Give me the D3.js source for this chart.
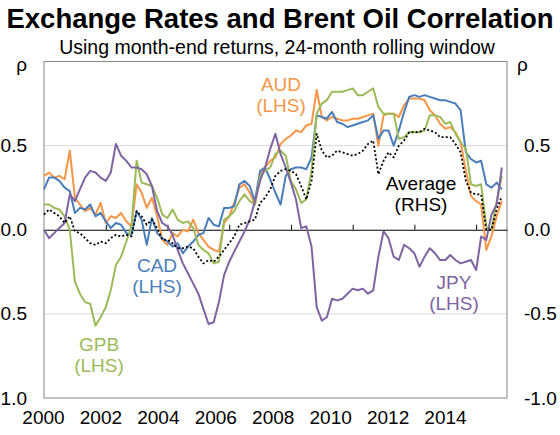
<!DOCTYPE html>
<html>
<head>
<meta charset="utf-8">
<script src="https://d3js.org/d3.v7.min.js"></script>
<style>
  body { margin: 0; background: #fff; }
  svg { font-family: Arial, "Liberation Sans", sans-serif; }
</style>
</head>
<body>
<svg id="drawing_region"></svg>
<script>
// bi-monthly observations, Jan 2000 - Nov 2014
const dates = d3.timeMonth.every(2).range(new Date(2000, 0, 1), new Date(2015, 0, 1));

const aud = [0.32,0.34,0.31,0.32,0.30,0.47,0.19,0.15,0.11,0.13,0.09,0.16,0.04,0.08,0.07,0.10,0.05,0.02,0.27,0.22,0.13,0.19,0.08,
  -0.06,-0.09,-0.02,-0.04,0.00,-0.01,0.06,-0.02,-0.06,-0.10,-0.12,-0.13,0.04,0.08,0.16,0.25,0.27,0.22,0.15,0.33,0.37,0.41,
  0.43,0.51,0.54,0.56,0.59,0.58,0.62,0.63,0.83,0.67,0.65,0.67,0.66,0.65,0.65,0.66,0.66,0.67,0.68,0.69,0.50,0.68,0.69,
  0.69,0.67,0.74,0.78,0.78,0.78,0.77,0.71,0.68,0.63,0.60,0.61,0.58,0.52,0.35,0.20,0.17,0.15,-0.12,-0.04,0.08,0.17];

const cad = [0.24,0.31,0.31,0.29,0.25,0.23,0.10,0.13,0.12,0.15,0.08,0.10,0.05,0.01,0.04,0.03,-0.02,-0.03,0.11,0.06,-0.09,0.07,-0.02,
  -0.05,-0.07,-0.10,-0.08,-0.14,-0.10,-0.07,-0.03,-0.02,0.07,0.03,0.02,0.13,0.13,0.14,0.27,0.29,0.26,0.17,0.35,0.37,0.30,
  0.22,0.15,0.32,0.36,0.37,0.37,0.36,0.43,0.68,0.67,0.66,0.70,0.64,0.63,0.61,0.62,0.63,0.64,0.65,0.68,0.54,0.59,0.59,
  0.50,0.59,0.70,0.79,0.80,0.79,0.80,0.79,0.78,0.77,0.77,0.76,0.75,0.71,0.46,0.42,0.40,0.41,0.27,0.25,0.28,0.24];

const gpb = [0.15,0.15,0.13,0.12,0.08,0.00,-0.31,-0.38,-0.43,-0.44,-0.57,-0.52,-0.46,-0.36,-0.21,-0.16,-0.07,0.02,0.41,0.28,0.27,0.26,0.19,
  0.09,0.07,0.12,0.06,0.04,0.05,0.01,-0.09,-0.12,-0.14,-0.20,-0.19,0.06,0.08,0.11,0.17,0.21,0.17,0.15,0.32,0.35,0.37,
  0.45,0.47,0.44,0.29,0.24,0.16,0.18,0.35,0.69,0.75,0.77,0.82,0.82,0.82,0.83,0.84,0.80,0.80,0.82,0.84,0.73,0.69,0.69,
  0.69,0.54,0.55,0.58,0.58,0.58,0.59,0.68,0.68,0.67,0.63,0.64,0.57,0.52,0.48,0.27,0.26,0.27,0.02,0.00,0.17,0.32];

const jpy = [0.00,-0.05,-0.02,0.01,0.04,0.21,0.17,0.24,0.31,0.35,0.34,0.31,0.29,0.34,0.51,0.44,0.41,0.37,0.37,0.36,0.33,0.26,0.11,
  0.04,0.02,-0.03,-0.12,-0.20,-0.26,-0.32,-0.38,-0.47,-0.56,-0.55,-0.43,-0.27,-0.19,-0.13,-0.07,-0.01,0.06,0.17,0.29,0.37,0.48,
  0.57,0.45,0.37,0.28,0.18,0.01,0.02,-0.10,-0.46,-0.54,-0.52,-0.41,-0.42,-0.41,-0.38,-0.35,-0.36,-0.35,-0.38,-0.36,-0.16,-0.01,-0.05,
  -0.16,-0.18,-0.09,-0.11,-0.14,-0.22,-0.16,-0.11,-0.14,-0.18,-0.18,-0.15,-0.18,-0.20,-0.19,-0.18,-0.24,-0.04,-0.06,0.09,0.15,0.37];

const average = [0.09,0.12,0.10,0.08,0.04,0.08,-0.01,-0.02,-0.05,-0.08,-0.09,-0.07,-0.08,-0.05,-0.03,-0.04,-0.03,-0.04,0.11,0.08,0.03,0.06,0.01,
  -0.06,-0.06,-0.08,-0.11,-0.11,-0.10,-0.11,-0.16,-0.20,-0.18,-0.19,-0.16,-0.12,-0.08,-0.04,0.03,0.04,0.05,0.06,0.16,0.19,0.24,
  0.32,0.35,0.36,0.35,0.33,0.26,0.18,0.29,0.57,0.47,0.43,0.44,0.47,0.46,0.45,0.44,0.45,0.47,0.51,0.53,0.33,0.41,0.46,
  0.43,0.50,0.53,0.58,0.58,0.58,0.60,0.59,0.58,0.55,0.55,0.55,0.51,0.46,0.29,0.22,0.21,0.21,0.00,0.00,0.12,0.20];

const yearLabels = ["2000","2002","2004","2006","2008","2010","2012","2014"];
const yTicks = [-1, -0.5, 0, 0.5];

var width = 560;
var height = 435;
var margin = {top: 61.5, right: 53, bottom: 37, left: 44};

var svg = d3.select('#drawing_region')
    .attr('width', width)
    .attr('height', height);

const inner_width = width - margin.left - margin.right;
const inner_height = height - margin.top - margin.bottom;

const chart = svg.append('g')
    .attr('transform', `translate(${margin.left}, ${margin.top})`);

const xscale = d3.scaleTime()
    .domain([new Date(2000, 0, 1), new Date(2015, 0, 1)])
    .range([0, inner_width]);

const yscale = d3.scaleLinear()
    .domain([-1, 1])
    .range([inner_height, 0]);

const labelScale = d3.scalePoint()
    .domain(yearLabels)
    .range([-1, 401]);

// gridlines
chart.selectAll('.grid')
    .data([0.5, -0.5])
    .enter().append('line')
    .attr('x1', 0).attr('x2', inner_width)
    .attr('y1', d => yscale(d)).attr('y2', d => yscale(d))
    .attr('stroke', '#d9d9d9')
    .attr('stroke-width', 1);

// frame
chart.append('rect')
    .attr('width', inner_width)
    .attr('height', inner_height)
    .attr('fill', 'none')
    .attr('stroke', '#868686');

// zero line with small year ticks
const zero_axis = chart.append('g')
    .attr('transform', `translate(0, ${yscale(0)})`)
    .call(d3.axisBottom(xscale)
        .tickValues(d3.range(2002, 2015, 2).map(y => new Date(y, 0, 1)))
        .tickSize(-5)
        .tickSizeOuter(0)
        .tickFormat(''));
zero_axis.select('.domain').attr('stroke', '#000');
zero_axis.selectAll('.tick line').attr('stroke', '#000');

// left and right axes
const fmt = d => d.toFixed(1);
const left_axis = chart.append('g')
    .call(d3.axisLeft(yscale).tickValues(yTicks).tickFormat(fmt).tickSize(0).tickPadding(17));
const right_axis = chart.append('g')
    .attr('transform', `translate(${inner_width}, 0)`)
    .call(d3.axisRight(yscale).tickValues(yTicks).tickFormat(fmt).tickSize(0).tickPadding(17));

const x_axis = chart.append('g')
    .attr('transform', `translate(0, ${inner_height})`)
    .call(d3.axisBottom(labelScale).tickSize(0).tickPadding(13));

[left_axis, right_axis, x_axis].forEach(g => {
    g.select('.domain').remove();
    g.selectAll('text')
        .attr('font-size', 19)
        .attr('font-family', 'Arial, "Liberation Sans", sans-serif')
        .attr('fill', '#000');
});

// rho labels
svg.append('text').attr('x', 27).attr('y', 71).attr('text-anchor', 'end')
    .attr('font-size', 19).text('ρ');
svg.append('text').attr('x', 517).attr('y', 71)
    .attr('font-size', 19).text('ρ');

// series
const series = [
    {values: aud, color: '#F79646', dash: null},
    {values: cad, color: '#4A7EBB', dash: null},
    {values: gpb, color: '#9BBB59', dash: null},
    {values: jpy, color: '#8064A2', dash: null},
    {values: average, color: '#000000', dash: '2,2.2'}
];

const line = d3.line()
    .x((d, i) => xscale(dates[i]))
    .y(d => yscale(d));

series.forEach(s => {
    chart.append('path')
        .attr('d', line(s.values))
        .attr('fill', 'none')
        .attr('stroke', s.color)
        .attr('stroke-width', s.dash ? 1.8 : 2)
        .attr('stroke-dasharray', s.dash)
        .attr('stroke-linejoin', 'round');
});

// series labels
const labels = [
    {name: 'AUD', side: '(LHS)', x: 281, y: 91, color: '#F79646'},
    {name: 'CAD', side: '(LHS)', x: 157, y: 272, color: '#4A7EBB'},
    {name: 'GPB', side: '(LHS)', x: 99, y: 351, color: '#9BBB59'},
    {name: 'JPY', side: '(LHS)', x: 454, y: 289, color: '#8064A2'},
    {name: 'Average', side: '(RHS)', x: 421, y: 190, color: '#000000'}
];

labels.forEach(l => {
    const t = svg.append('text')
        .attr('text-anchor', 'middle')
        .attr('font-size', 19)
        .attr('fill', l.color);
    t.append('tspan').attr('x', l.x).attr('y', l.y).text(l.name);
    t.append('tspan').attr('x', l.x).attr('y', l.y + 21).text(l.side);
});

// titles
svg.append('text')
    .attr('x', 280).attr('y', 28)
    .attr('text-anchor', 'middle')
    .attr('font-size', 27.5)
    .attr('font-weight', 'bold')
    .text('Exchange Rates and Brent Oil Correlation');

svg.append('text')
    .attr('x', 277).attr('y', 54)
    .attr('text-anchor', 'middle')
    .attr('font-size', 19.5)
    .text('Using month-end returns, 24-month rolling window');
</script>
</body>
</html>
